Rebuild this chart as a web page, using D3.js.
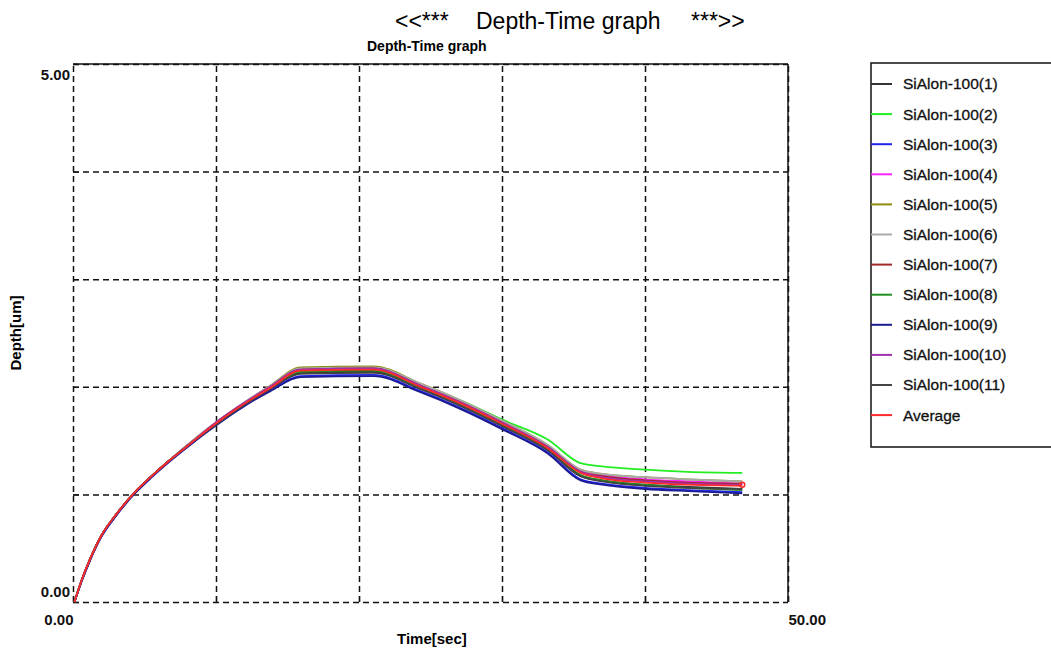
<!DOCTYPE html>
<html>
<head>
<meta charset="utf-8">
<script src="https://cdn.jsdelivr.net/npm/d3@7"></script>
<style>
  body { margin: 0; background: #fff; }
  svg { display: block; font-family: "Liberation Sans", Arial, sans-serif; }
</style>
</head>
<body>
<svg width="1051" height="654"></svg>
<script>
// time axis shared by every run (sec)
var times = [0.1, 0.6, 1.2, 2, 3, 4.4, 5.5, 6.7, 8, 9.9, 11.5, 13.8, 15.9, 21.0, 24.3, 27, 30.1, 33.2, 35.5, 37, 40, 43, 46.8];

// depth values (um) per run
var run1  = [0, 0.20, 0.40, 0.62, 0.81, 1.03, 1.17, 1.31, 1.45, 1.64, 1.79, 1.98, 2.13, 2.14, 1.98, 1.83, 1.63, 1.41, 1.17, 1.13, 1.09, 1.07, 1.05];
var run2  = [0, 0.20, 0.40, 0.62, 0.81, 1.03, 1.17, 1.31, 1.45, 1.65, 1.80, 2.00, 2.16, 2.17, 2.02, 1.88, 1.69, 1.51, 1.29, 1.26, 1.23, 1.21, 1.20];
var run3  = [0, 0.19, 0.39, 0.61, 0.80, 1.02, 1.16, 1.30, 1.44, 1.64, 1.78, 1.97, 2.10, 2.11, 1.96, 1.81, 1.61, 1.39, 1.14, 1.10, 1.06, 1.04, 1.02];
var run4  = [0, 0.20, 0.40, 0.62, 0.81, 1.03, 1.17, 1.31, 1.46, 1.66, 1.81, 2.01, 2.17, 2.18, 2.02, 1.87, 1.67, 1.45, 1.22, 1.18, 1.14, 1.12, 1.10];
var run5  = [0, 0.20, 0.40, 0.62, 0.81, 1.03, 1.17, 1.31, 1.46, 1.66, 1.81, 2.01, 2.18, 2.19, 2.03, 1.88, 1.68, 1.46, 1.23, 1.19, 1.16, 1.14, 1.12];
var run6  = [0, 0.20, 0.40, 0.62, 0.81, 1.03, 1.17, 1.31, 1.46, 1.66, 1.81, 2.01, 2.17, 2.18, 2.03, 1.88, 1.68, 1.46, 1.23, 1.19, 1.16, 1.14, 1.12];
var run7  = [0, 0.20, 0.40, 0.62, 0.81, 1.03, 1.17, 1.31, 1.45, 1.65, 1.80, 2.00, 2.16, 2.17, 2.01, 1.86, 1.66, 1.44, 1.21, 1.17, 1.13, 1.11, 1.10];
var run8  = [0, 0.20, 0.40, 0.62, 0.81, 1.03, 1.17, 1.31, 1.45, 1.65, 1.80, 1.99, 2.14, 2.15, 1.99, 1.84, 1.64, 1.42, 1.18, 1.13, 1.09, 1.06, 1.04];
var run9  = [0, 0.19, 0.39, 0.61, 0.80, 1.02, 1.16, 1.30, 1.44, 1.63, 1.78, 1.96, 2.09, 2.10, 1.95, 1.80, 1.60, 1.38, 1.13, 1.09, 1.05, 1.03, 1.01];
var run10 = [0, 0.20, 0.40, 0.62, 0.81, 1.03, 1.17, 1.31, 1.45, 1.66, 1.81, 2.00, 2.16, 2.17, 2.01, 1.86, 1.66, 1.44, 1.21, 1.16, 1.12, 1.10, 1.09];
var run11 = [0, 0.20, 0.40, 0.62, 0.81, 1.03, 1.17, 1.31, 1.45, 1.64, 1.79, 1.98, 2.12, 2.13, 1.98, 1.83, 1.63, 1.41, 1.17, 1.12, 1.08, 1.06, 1.05];
var average = [0, 0.20, 0.40, 0.62, 0.81, 1.03, 1.17, 1.31, 1.45, 1.65, 1.80, 1.99, 2.15, 2.16, 2.00, 1.85, 1.65, 1.43, 1.20, 1.15, 1.11, 1.09, 1.08];

var names = ["SiAlon-100(1)", "SiAlon-100(2)", "SiAlon-100(3)", "SiAlon-100(4)", "SiAlon-100(5)", "SiAlon-100(6)",
             "SiAlon-100(7)", "SiAlon-100(8)", "SiAlon-100(9)", "SiAlon-100(10)", "SiAlon-100(11)", "Average"];
var colors = ["#333333", "#22ee22", "#2222ee", "#ff22ff", "#8c8c10", "#aaaaaa",
              "#a02828", "#1f8f1f", "#1c1c90", "#a030b0", "#444444", "#ff2a2a"];
var seriesValues = [run1, run2, run3, run4, run5, run6, run7, run8, run9, run10, run11, average];

var xGrid = [0, 10, 20, 30, 40, 50];
var yGrid = [0, 1, 2, 3, 4, 5];
var xTicks = [0, 50];
var yTicks = [0, 5];

var svg = d3.select("svg");
var plotLeft = 73, plotRight = 788, plotTop = 64, plotBottom = 602;

var x = d3.scaleLinear().domain([0, 50]).range([plotLeft, plotRight]);
var y = d3.scaleLinear().domain([0, 5]).range([plotBottom, plotTop]);

// titles
svg.append("text").attr("x", 395).attr("y", 29).attr("font-size", "23px").text("<<***");
svg.append("text").attr("x", 476).attr("y", 29).attr("font-size", "23px").text("Depth-Time graph");
svg.append("text").attr("x", 691).attr("y", 29).attr("font-size", "23px").text("***>>");
svg.append("text").attr("x", 367).attr("y", 51).attr("font-size", "14px").attr("font-weight", "bold")
    .text("Depth-Time graph");

// dashed grid
svg.append("g")
    .attr("transform", "translate(0," + plotBottom + ")")
    .call(d3.axisBottom(x).tickValues(xGrid).tickSize(-(plotBottom - plotTop)).tickFormat(""))
    .call(function(g) {
        g.select(".domain").remove();
        g.selectAll("line").attr("stroke", "#111").attr("stroke-width", 1.5).attr("stroke-dasharray", "6,4");
    });
svg.append("g")
    .attr("transform", "translate(" + plotLeft + ",0)")
    .call(d3.axisLeft(y).tickValues(yGrid).tickSize(-(plotRight - plotLeft)).tickFormat(""))
    .call(function(g) {
        g.select(".domain").remove();
        g.selectAll("line").attr("stroke", "#111").attr("stroke-width", 1.5).attr("stroke-dasharray", "6,4");
    });

// solid top and right frame
svg.append("line").attr("x1", plotLeft).attr("x2", plotRight).attr("y1", plotTop).attr("y2", plotTop)
    .attr("stroke", "#111").attr("stroke-width", 1.5);
svg.append("line").attr("x1", plotRight).attr("x2", plotRight).attr("y1", plotTop).attr("y2", plotBottom)
    .attr("stroke", "#111").attr("stroke-width", 1.5);

// small inner ticks on bottom and left
svg.append("g")
    .attr("transform", "translate(0," + plotBottom + ")")
    .call(d3.axisBottom(x).tickValues(xGrid).tickSize(-6).tickFormat(""))
    .call(function(g) {
        g.select(".domain").remove();
        g.selectAll("line").attr("stroke", "#111").attr("stroke-width", 1.2);
    });
svg.append("g")
    .attr("transform", "translate(" + plotLeft + ",0)")
    .call(d3.axisLeft(y).tickValues(yGrid).tickSize(-6).tickFormat(""))
    .call(function(g) {
        g.select(".domain").remove();
        g.selectAll("line").attr("stroke", "#111").attr("stroke-width", 1.2);
    });

// tick labels
var fmt = d3.format(".2f");
svg.append("g")
    .attr("transform", "translate(0," + plotBottom + ")")
    .call(d3.axisBottom(x).tickValues(xTicks).tickSize(0).tickFormat(fmt))
    .call(function(g) {
        g.select(".domain").remove();
        g.selectAll("text")
            .attr("font-family", "Liberation Sans, Arial, sans-serif")
            .attr("font-size", "15px").attr("font-weight", "bold").attr("fill", "#111")
            .attr("y", 12)
            .attr("text-anchor", function(d) { return d === 0 ? "end" : "start"; });
    });
svg.append("g")
    .attr("transform", "translate(" + (plotLeft - 3) + ",0)")
    .call(d3.axisLeft(y).tickValues(yTicks).tickSize(0).tickFormat(fmt))
    .call(function(g) {
        g.select(".domain").remove();
        g.selectAll("text")
            .attr("font-family", "Liberation Sans, Arial, sans-serif")
            .attr("font-size", "15px").attr("font-weight", "bold").attr("fill", "#111")
            .attr("x", 0)
            .attr("dy", function(d) { return d === 0 ? "-0.4em" : "1.0em"; });
    });

// axis titles
svg.append("text").attr("x", 397).attr("y", 644).attr("font-size", "15px").attr("font-weight", "bold")
    .text("Time[sec]");
svg.append("text").attr("transform", "translate(21,333) rotate(-90)").attr("text-anchor", "middle")
    .attr("font-size", "15px").attr("font-weight", "bold").text("Depth[um]");

// curves
var line = d3.line()
    .x(function(d, i) { return x(times[i]); })
    .y(function(d) { return y(d); })
    .curve(d3.curveMonotoneX);

svg.append("g").selectAll("path").data(seriesValues).enter()
    .append("path")
    .attr("d", line)
    .attr("fill", "none")
    .attr("stroke", function(d, i) { return colors[i]; })
    .attr("stroke-width", 1.8);

// end marker of the average
svg.append("circle")
    .attr("cx", x(times[times.length - 1]))
    .attr("cy", y(average[average.length - 1]) - 1)
    .attr("r", 2.5)
    .attr("fill", "none")
    .attr("stroke", colors[11])
    .attr("stroke-width", 1.5);

// legend
var legend = svg.append("g");
legend.append("rect")
    .attr("x", 871).attr("y", 63).attr("width", 200).attr("height", 384)
    .attr("fill", "#fff").attr("stroke", "#111").attr("stroke-width", 1.5);
var items = legend.selectAll("g.item").data(names).enter()
    .append("g")
    .attr("transform", function(d, i) { return "translate(871," + (84 + i * 30.1) + ")"; });
items.append("line")
    .attr("x1", 0).attr("x2", 21).attr("y1", 0).attr("y2", 0)
    .attr("stroke", function(d, i) { return colors[i]; })
    .attr("stroke-width", 2);
items.append("text")
    .attr("x", 32).attr("dy", "0.35em")
    .attr("font-size", "15.5px").attr("fill", "#111")
    .attr("stroke", "#111").attr("stroke-width", 0.3)
    .text(function(d) { return d; });
</script>
</body>
</html>
